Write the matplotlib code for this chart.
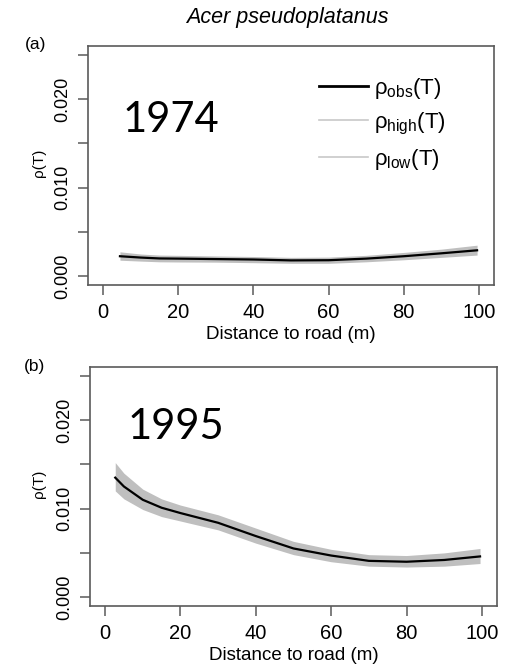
import numpy as np
import matplotlib.pyplot as plt
from matplotlib.lines import Line2D

plt.rcParams['font.family'] = ['Liberation Sans', 'DejaVu Sans']
plt.rcParams['mathtext.fontset'] = 'custom'
plt.rcParams['mathtext.rm'] = 'Liberation Sans'

# panel (a) 1974
dist_a = [4.5, 10, 15, 20, 30, 40, 50, 60, 70, 80, 90, 99.5]
obs_a = [0.00225, 0.00210, 0.00200, 0.00198, 0.00193, 0.00188, 0.00178, 0.00180, 0.00198, 0.00225, 0.00258, 0.00292]
high_a = [0.00275, 0.00250, 0.00238, 0.00235, 0.00228, 0.00222, 0.00212, 0.00215, 0.00235, 0.00268, 0.00305, 0.00350]
low_a = [0.00180, 0.00170, 0.00162, 0.00160, 0.00158, 0.00152, 0.00145, 0.00145, 0.00162, 0.00185, 0.00212, 0.00238]

# panel (b) 1995
dist_b = [2.7, 5, 10, 15, 20, 30, 40, 50, 60, 70, 80, 90, 99.5]
obs_b = [0.0135, 0.0125, 0.0110, 0.0101, 0.0095, 0.0084, 0.0069, 0.0055, 0.0047, 0.0041, 0.0040, 0.0042, 0.0046]
high_b = [0.0152, 0.0140, 0.0122, 0.0111, 0.0104, 0.0093, 0.0078, 0.0063, 0.0054, 0.0048, 0.0047, 0.0050, 0.0055]
low_b = [0.0120, 0.0111, 0.0099, 0.0091, 0.0086, 0.0076, 0.0061, 0.0048, 0.0040, 0.0035, 0.0034, 0.0035, 0.0038]

yticks = [0, 0.005, 0.010, 0.015, 0.020, 0.025]
ylabels = ['0.000', '', '0.010', '', '0.020', '']
xticks = [0, 20, 40, 60, 80, 100]

fig = plt.figure(figsize=(5.10, 6.71), dpi=100)

def panel(rect, x, obs, hi, lo, year, year_xy, letter, letter_xy, legend=False):
    ax = fig.add_axes(rect)
    ax.fill_between(x, lo, hi, color='#bfbfbf', lw=0)
    ax.plot(x, obs, color='black', lw=1.6)
    ax.set_xlim(-4, 104)
    ax.set_ylim(-0.001, 0.026)
    ax.set_xticks(xticks)
    ax.set_yticks(yticks)
    ax.set_yticklabels(ylabels)
    for s in ax.spines.values():
        s.set_color('#5a5a5a')
        s.set_linewidth(1.2)
    ax.tick_params(axis='both', length=7, width=1.1, color='#5a5a5a')
    ax.tick_params(axis='x', pad=6, labelsize=14.5)
    ax.tick_params(axis='y', pad=5, labelsize=13)
    for t in ax.get_yticklabels():
        t.set_rotation(90)
        t.set_va('center')
    ax.set_xlabel('Distance to road (m)', fontsize=13.5, labelpad=3)
    ax.text(year_xy[0], year_xy[1], year, transform=ax.transAxes, fontsize=30,
            family=['Lato', 'DejaVu Sans'], va='center', ha='left')
    fig.text(letter_xy[0], letter_xy[1], letter, fontsize=12.5, ha='left', va='center')
    fig.text(39 / 510, rect[1] + rect[3] * 0.51, 'ρ(T)', rotation=90,
             fontsize=11, ha='center', va='center')
    if legend:
        handles = [Line2D([], [], color='black', lw=2),
                   Line2D([], [], color='#c8c8c8', lw=1.2),
                   Line2D([], [], color='#c8c8c8', lw=1.2)]
        labels = [r'ρ$_{\mathrm{obs}}$(T)', r'ρ$_{\mathrm{high}}$(T)', r'ρ$_{\mathrm{low}}$(T)']
        ax.legend(handles, labels, loc='upper right', bbox_to_anchor=(0.93, 0.96),
                  frameon=False, fontsize=16, handlelength=2.2, handletextpad=0.25,
                  labelspacing=0.45, markerfirst=True)
    return ax

panel([88 / 510, 1 - 285 / 671, 406 / 510, 239 / 671], dist_a, obs_a, high_a, low_a,
      '1974', (0.085, 0.69), '(a)', (25 / 510, 1 - 45 / 671), legend=True)
panel([90 / 510, 1 - 606 / 671, 407 / 510, 239 / 671], dist_b, obs_b, high_b, low_b,
      '1995', (0.092, 0.75), '(b)', (24 / 510, 1 - 367 / 671))

fig.text(287 / 510, 1 - 17 / 671, 'Acer pseudoplatanus', fontsize=15.5, style='italic',
         ha='center', va='center')

fig.savefig('out.png', dpi=100)
